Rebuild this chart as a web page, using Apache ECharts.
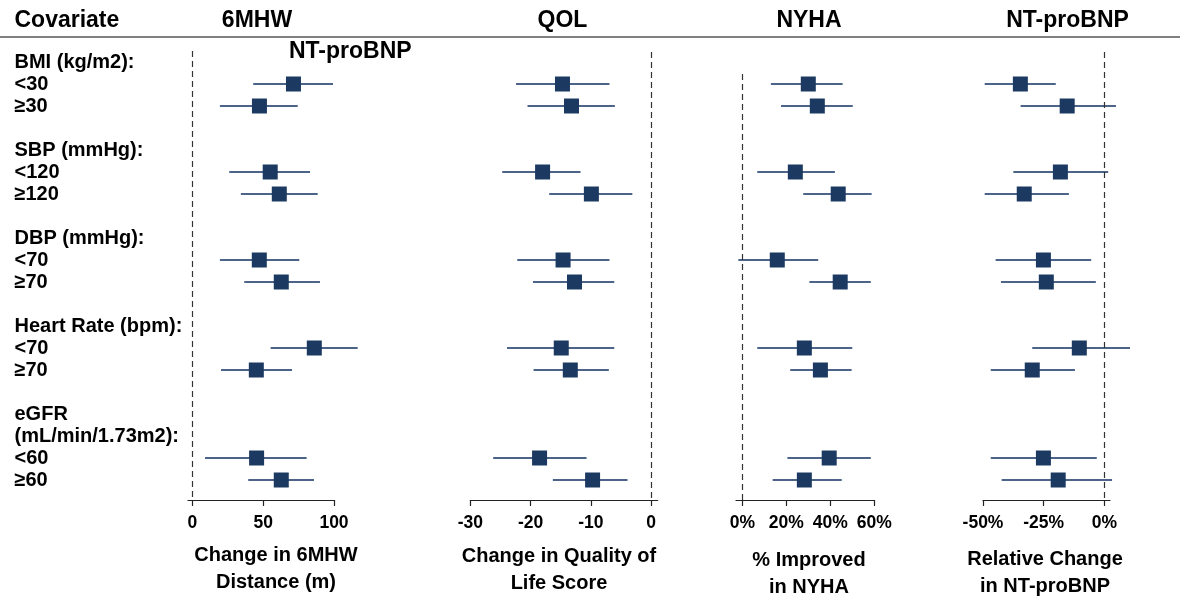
<!DOCTYPE html>
<html><head><meta charset="utf-8">
<script src="https://cdn.jsdelivr.net/npm/echarts@6/dist/echarts.min.js"></script>
<style>html,body{margin:0;padding:0;background:#fff}#c{width:1180px;height:598px}</style>
</head><body><div id="c"></div><script>
// ---- data ----
const slotLabels = ["BMI (kg/m2):","<30","≥30","","SBP (mmHg):","<120","≥120","","DBP (mmHg):","<70","≥70","","Heart Rate (bpm):","<70","≥70","","eGFR","(mL/min/1.73m2):","<60","≥60"];
const rowSlots = [1,2,5,6,9,10,13,14,18,19];

const mhwPoint = [71.4,47.4,55.0,61.4,47.3,62.8,86.1,45.2,45.4,62.8];
const mhwLow   = [43.0,19.5,26.1,34.3,19.5,36.7,55.3,20.3,9.0,39.5];
const mhwHigh  = [99.3,74.4,83.1,88.5,75.5,90.1,116.7,70.4,80.7,85.9];

const qolPoint = [-14.7,-13.2,-18.0,-9.9,-14.6,-12.7,-14.9,-13.4,-18.5,-9.7];
const qolLow   = [-22.4,-20.5,-24.7,-16.9,-22.2,-19.6,-23.9,-19.5,-26.2,-16.3];
const qolHigh  = [-6.9,-6.0,-11.7,-3.1,-6.9,-6.1,-6.1,-7.0,-10.7,-3.9];

const nyhaPoint = [30.0,34.1,24.1,43.6,15.9,44.5,28.2,35.5,39.5,28.2];
const nyhaLow   = [13.0,17.6,6.8,27.7,-1.8,30.5,6.8,21.8,20.5,13.8];
const nyhaHigh  = [45.6,50.2,42.1,58.8,34.5,58.4,50.0,49.7,58.4,45.2];

const bnpPoint = [-34.6,-15.3,-18.1,-33.0,-25.1,-23.9,-10.3,-29.7,-25.1,-19.0];
const bnpLow   = [-49.3,-34.5,-37.5,-49.3,-44.8,-42.6,-29.7,-46.8,-46.8,-42.3];
const bnpHigh  = [-20.0,4.8,1.6,-14.6,-5.4,-3.5,10.6,-12.1,-3.1,3.2];

const ticks6mhw = [0,50,100];
const ticksQol  = [-30,-20,-10,0];
const ticksNyha = [0,20,40,60];
const ticksBnp  = [-50,-25,0];

const panelHeaders = ["6MHW","QOL","NYHA","NT-proBNP"];
const axisNames = ["Change in 6MHW\nDistance (m)","Change in Quality of\nLife Score","% Improved\nin NYHA","Relative Change\nin NT-proBNP"];

// ---- layout / style ----
const FONT = "'Liberation Sans', Arial, Helvetica, sans-serif";
const panels = [
  {pt:mhwPoint, lo:mhwLow, hi:mhwHigh, ticks:ticks6mhw, pct:false, left:188, width:146, min:-3, max:100, refTop:-0.5, hx:257, nx:276, ny:569},
  {pt:qolPoint, lo:qolLow, hi:qolHigh, ticks:ticksQol, pct:false, left:470.3, width:187.4, min:-30, max:1.11, refTop:-0.45, hx:562.5, nx:559, ny:570},
  {pt:nyhaPoint, lo:nyhaLow, hi:nyhaHigh, ticks:ticksNyha, pct:true, left:736, width:138.3, min:-2.86, max:60, refTop:0.55, hx:809, nx:809, ny:574},
  {pt:bnpPoint, lo:bnpLow, hi:bnpHigh, ticks:ticksBnp, pct:true, left:983, width:127, min:-50, max:2.35, refTop:-0.45, hx:1067.5, nx:1045, ny:573}
];
const yMin = -0.5, yMax = 19.909;

const grid = [], xAxis = [], yAxis = [], series = [];
panels.forEach((p, i) => {
  grid.push({left:p.left, width:p.width, top:51, height:449, containLabel:false});
  xAxis.push({
    type:'value', gridIndex:i, min:p.min, max:p.max, position:'bottom',
    axisLine:{show:true, onZero:false, lineStyle:{color:'#222', width:1.2}},
    axisTick:{show:true, length:6, customValues:p.ticks, lineStyle:{color:'#222', width:1.2}},
    axisLabel:{show:true, customValues:p.ticks, margin:14, color:'#000', fontFamily:FONT, fontWeight:'bold', fontSize:17.5,
      formatter: v => p.pct ? v + '%' : String(v)},
    splitLine:{show:false}
  });
  yAxis.push({
    type:'value', gridIndex:i, inverse:true, min:yMin, max:yMax,
    axisLine:{show:false, onZero:false}, axisTick:{show:false}, splitLine:{show:false},
    axisLabel: i === 0 ? {show:true, customValues:slotLabels.map((_, k) => k), align:'left', margin:173.5,
      color:'#000', fontFamily:FONT, fontWeight:'bold', fontSize:20,
      formatter: v => slotLabels[Math.round(v)] || ''} : {show:false}
  });
  series.push({
    type:'custom', xAxisIndex:i, yAxisIndex:i, clip:false, z:2,
    data: rowSlots.map((s, k) => [p.lo[k], p.hi[k], s]),
    renderItem: (params, api) => {
      const a = api.coord([api.value(0), api.value(2)]);
      const b = api.coord([api.value(1), api.value(2)]);
      return {type:'line', shape:{x1:a[0], y1:a[1], x2:b[0], y2:b[1]},
        style:{stroke:'#4b6488', lineWidth:2}};
    }
  });
  series.push({
    type:'scatter', xAxisIndex:i, yAxisIndex:i, z:3, clip:false,
    symbol:'rect', symbolSize:15, itemStyle:{color:'#1b3961', opacity:1},
    emphasis:{disabled:true},
    data: rowSlots.map((s, k) => [p.pt[k], s]),
    markLine:{silent:true, symbol:'none', label:{show:false},
      lineStyle:{color:'#333', width:1.2, type:[6,4]},
      data:[[{coord:[0, p.refTop]}, {coord:[0, yMax]}]]}
  });
});

const graphic = [
  {type:'line', shape:{x1:0, y1:37, x2:1180, y2:37}, style:{stroke:'#808080', lineWidth:2}},
  {type:'text', x:14.5, y:21, style:{text:'Covariate', font:'bold 23px ' + FONT, fill:'#000', align:'left', textAlign:'left', verticalAlign:'middle', textVerticalAlign:'middle'}},
  {type:'text', x:350.3, y:51.5, style:{text:'NT-proBNP', font:'bold 23px ' + FONT, fill:'#000', align:'center', textAlign:'center', verticalAlign:'middle', textVerticalAlign:'middle'}}
];
panels.forEach((p, i) => {
  graphic.push({type:'text', x:p.hx, y:21, style:{text:panelHeaders[i], font:'bold 23px ' + FONT, fill:'#000', align:'center', textAlign:'center', verticalAlign:'middle', textVerticalAlign:'middle'}});
  graphic.push({type:'text', x:p.nx, y:p.ny, style:{text:axisNames[i], font:'bold 20px ' + FONT, lineHeight:27, fill:'#000', align:'center', textAlign:'center', verticalAlign:'middle', textVerticalAlign:'middle'}});
});

const chart = echarts.init(document.getElementById('c'), null, {renderer:'canvas'});
chart.setOption({animation:false, backgroundColor:'#fff', grid, xAxis, yAxis, series, graphic});
</script></body></html>
